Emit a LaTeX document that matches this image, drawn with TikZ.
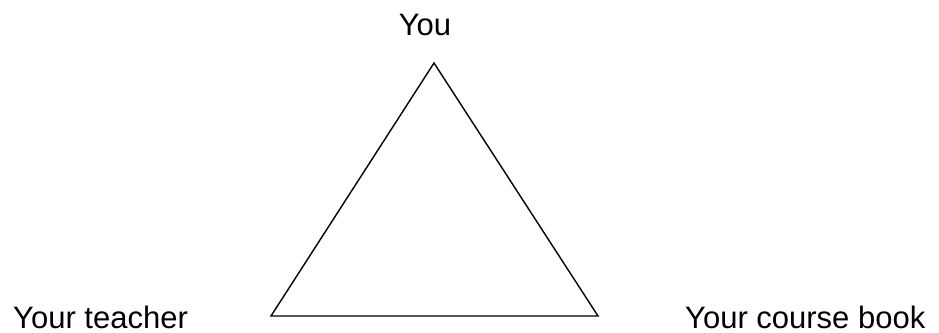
\documentclass[tikz,border=0pt]{standalone}
\usepackage{fontspec}
\setmainfont{Liberation Sans}
\begin{document}
\begin{tikzpicture}[x=1pt,y=-1pt,
  lbl/.style={inner sep=0pt,font=\fontsize{31}{37}\selectfont},
  tri/.style={draw=black,line width=1.4pt,line join=miter}]
\useasboundingbox (0,0) rectangle (939,332);
\coordinate (top) at (434,63);
\coordinate (bl) at (271,316);
\coordinate (br) at (598,316);
\draw[tri] (top) -- (bl) -- (br) -- cycle;
\node[lbl,anchor=base] (you) at (425,35) {You};
\node[lbl,anchor=base west] (teacher) at (13,328) {Your teacher};
\node[lbl,anchor=base west] (book) at (685,328) {Your course book};
\end{tikzpicture}
\end{document}
